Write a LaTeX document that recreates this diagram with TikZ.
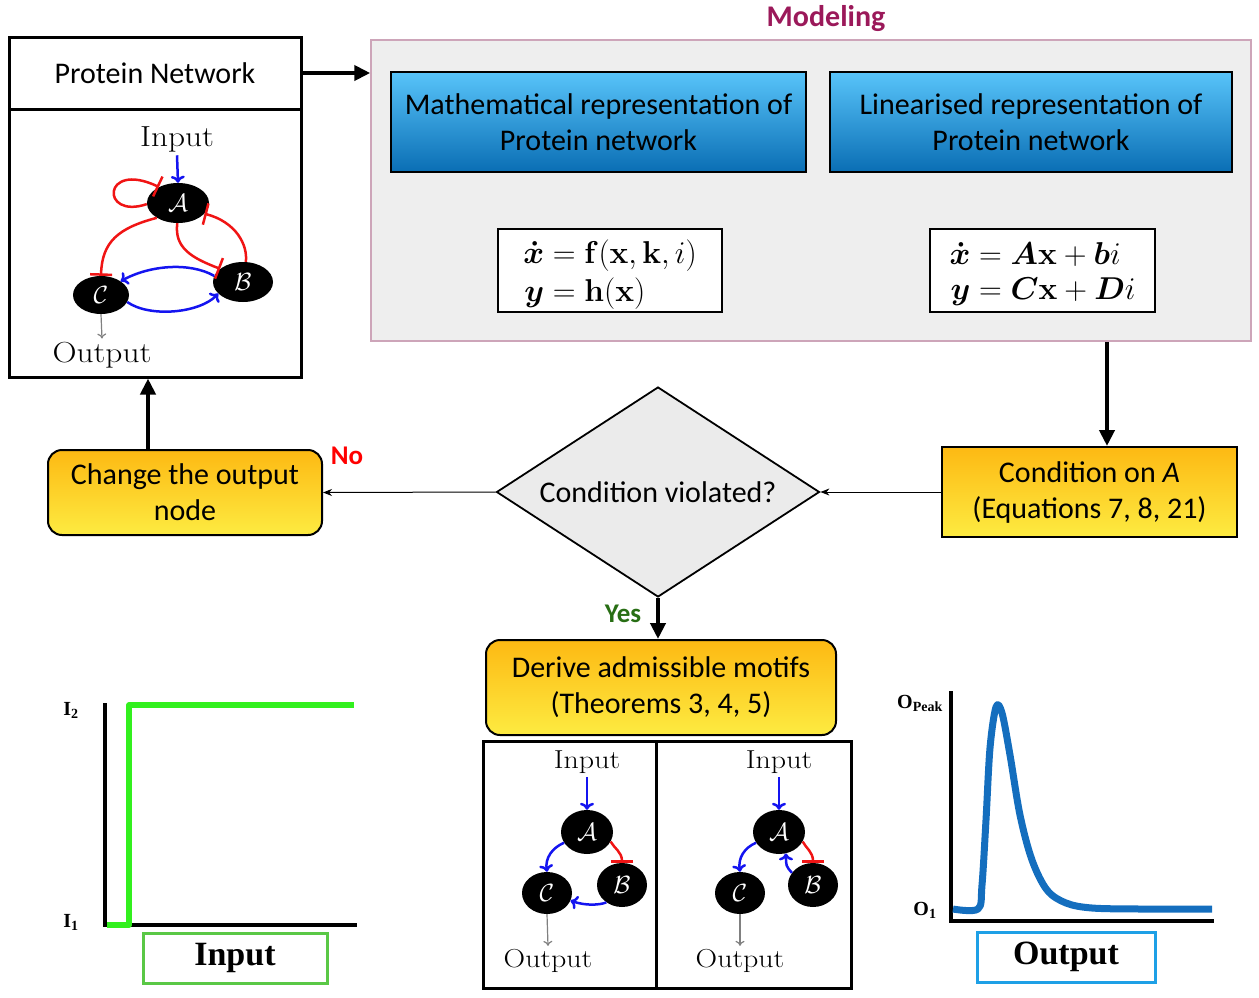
\documentclass[tikz,border=0pt]{standalone}
\usepackage{amsmath,bm}
\usepackage[no-math]{fontspec}
\setmainfont{Carlito}
\newfontfamily\cmrf[FakeStretch=1.15]{Latin Modern Roman}
\newfontfamily\timesf{Liberation Serif}
\usetikzlibrary{arrows.meta,shapes.geometric,calc}
\definecolor{modc}{RGB}{155,25,90}
\definecolor{panelfill}{RGB}{238,238,238}
\definecolor{paneldraw}{RGB}{205,165,185}
\definecolor{bluetop}{RGB}{88,196,250}
\definecolor{bluebot}{RGB}{10,110,180}
\definecolor{ytop}{RGB}{253,185,19}
\definecolor{ybot}{RGB}{253,235,65}
\definecolor{yesc}{RGB}{40,110,20}
\definecolor{stepg}{RGB}{50,240,30}
\definecolor{inboxc}{RGB}{90,200,70}
\definecolor{curveb}{RGB}{20,110,190}
\definecolor{outboxc}{RGB}{30,160,230}
\definecolor{netblue}{RGB}{20,20,240}
\definecolor{netred}{RGB}{240,20,20}
\definecolor{diafill}{RGB}{235,235,235}
\begin{document}
\begin{tikzpicture}[x=1pt,y=-1pt,
  txt/.style={font=\fontsize{30}{36}\selectfont, align=center},
  bluebox/.style={txt, draw=black, line width=2pt, top color=bluetop, bottom color=bluebot, inner sep=0pt},
  ybox/.style={txt, draw=black, line width=2pt, top color=ytop, bottom color=ybot, inner sep=0pt},
  eqbox/.style={draw=black, line width=2pt, fill=white, inner sep=0pt, font=\fontsize{24.88}{26}\selectfont},
  framebox/.style={draw=black, line width=3pt, inner sep=0pt},
  thickarr/.style={line width=4.5pt, -{Triangle[length=16pt,width=15pt]}},
  thinarr/.style={line width=1pt, -{Stealth[length=9pt,width=7pt]}},
  netnode/.style={ellipse, fill=black, text=white, inner sep=0pt, font=\fontsize{24.88}{30}\selectfont},
  netlbl/.style={font=\cmrf\fontsize{29}{32}\selectfont},
  netlbls/.style={font=\cmrf\fontsize{26}{30}\selectfont},
  act/.style={draw=netblue, line width=2.5pt, -{Computer Modern Rightarrow[length=7pt,width=14pt,line width=2.5pt]}},
  inh/.style={draw=netred, line width=2.5pt, -{Bar[width=22pt,line width=2.5pt]}},
  outarr/.style={draw=gray, line width=1.2pt, -{Computer Modern Rightarrow[length=5pt,width=9pt]}},
  lblb/.style={font=\timesf\bfseries\fontsize{20}{22}\selectfont}
]
\useasboundingbox (0,0) rectangle (1259,997);

% ---------- Protein network box ----------
\node[framebox, minimum width=292pt, minimum height=72pt, txt] (ptitle) at (155,73) {Protein Network};
\node[framebox, minimum width=292pt, minimum height=268pt] (pbox) at (155,243) {};

% network
\node[netlbl] (in1) at (177,139) {Input};
\node[netnode, minimum width=62pt, minimum height=40pt] (A1) at (178,203) {$\mathcal{A}$};
\node[netnode, minimum width=60pt, minimum height=40pt] (B1) at (243,282) {$\mathcal{B}$};
\node[netnode, minimum width=56pt, minimum height=38pt] (C1) at (101,295) {$\mathcal{C}$};
\node[netlbl] (out1) at (102,355) {Output};
\draw[act] (in1.south) -- (A1.north);
\draw[inh] (A1.182) .. controls (100,220) and (102,160) .. (A1.140);
\draw[inh] (A1.215) .. controls (118,228) and (102,242) .. (C1.north);
\draw[inh] (A1.268) .. controls (174,248) and (192,258) .. (B1.150);
\draw[inh] (B1.82) .. controls (248,245) and (236,222) .. (A1.-22);
\draw[act] (B1.168) .. controls (190,262) and (150,265) .. (C1.35);
\draw[act] (C1.-15) .. controls (150,318) and (200,313) .. (B1.205);
\draw[outarr] (C1.south) -- (out1.north);

% ---------- Modeling panel ----------
\node[draw=paneldraw, fill=panelfill, line width=1.5pt, minimum width=880pt, minimum height=301pt, inner sep=0pt] (model) at (811,190.5) {};
\node[font=\bfseries\fontsize{30}{34}\selectfont, text=modc] (mtitle) at (826,19) {Modeling};
\node[bluebox, minimum width=415pt, minimum height=100pt] (math) at (598.5,122) {Mathematical representation of\\Protein network};
\node[bluebox, minimum width=402pt, minimum height=100pt] (lin) at (1031,122) {Linearised representation of\\Protein network};
\node[eqbox, minimum width=224pt, minimum height=83pt] (eq1) at (610,270.5)
 {\raisebox{-5pt}[\height][\depth]{\scalebox{1.27}{$\begin{aligned}\bm{\dot{x}} &= \mathbf{f}(\mathbf{x},\mathbf{k},i)\\[-1pt] \bm{y} &= \mathbf{h}(\mathbf{x})\end{aligned}$}}};
\node[eqbox, minimum width=225pt, minimum height=83pt] (eq2) at (1042.5,270.5)
 {\raisebox{-5pt}[\height][\depth]{\scalebox{1.27}{$\begin{aligned}\bm{\dot{x}} &= \bm{A}\mathbf{x} + \bm{b}i\\[-1pt] \bm{y} &= \bm{C}\mathbf{x} + \bm{D}i\end{aligned}$}}};

\draw[thickarr] (ptitle.east) -- (ptitle.east -| model.west);

% ---------- Decision flow ----------
\node[ybox, minimum width=295pt, minimum height=90pt] (cond) at (1089.5,492) {Condition on \textit{A}\\(Equations 7, 8, 21)};
\draw[thickarr] ([xshift=17.5pt]cond.north |- model.south) -- ([xshift=17.5pt]cond.north);

\node[diamond, draw=black, line width=1.8pt, fill=diafill, minimum width=323pt, minimum height=210pt, aspect=1.54, inner sep=0pt, txt] (dia) at (658,492) {Condition violated?};
\draw[thinarr] (cond.west) -- (dia.east);

\node[ybox, rounded corners=14pt, minimum width=274pt, minimum height=85pt] (change) at (185,492.5) {Change the output\\node};
\draw[thinarr] (dia.west) -- (change.east);
\node[font=\bfseries\fontsize{27}{30}\selectfont, text=red] (no) at (347,456) {No};
\draw[thickarr] ([xshift=-37pt]change.north) -- ([xshift=-37pt]change.north |- pbox.south);

\node[ybox, rounded corners=14pt, minimum width=350pt, minimum height=95pt] (derive) at (661,687.5) {Derive admissible motifs\\(Theorems 3, 4, 5)};
\draw[thickarr] (dia.south) -- (dia.south |- derive.north);
\node[font=\bfseries\fontsize{27}{30}\selectfont, text=yesc] (yes) at (623,614) {Yes};

% ---------- Motif boxes ----------
\node[framebox, minimum width=173pt, minimum height=247pt] (m1) at (569.5,864.5) {};
\node[framebox, minimum width=195pt, minimum height=247pt] (m2) at (753.5,864.5) {};

% motif 1
\node[netlbls] (in2) at (587,762) {Input};
\node[netnode, minimum width=52pt, minimum height=44pt] (A2) at (587,832) {$\mathcal{A}$};
\node[netnode, minimum width=50pt, minimum height=44pt] (B2) at (622,885) {$\mathcal{B}$};
\node[netnode, minimum width=50pt, minimum height=42pt] (C2) at (547,893) {$\mathcal{C}$};
\node[netlbls] (out2) at (548,961) {Output};
\draw[act] (in2.south) -- (A2.north);
\draw[act] (A2.205) .. controls (552,848) and (545,858) .. (C2.north);
\draw[inh] (A2.-22) .. controls (614,848) and (622,852) .. (B2.north);
\draw[act] (B2.228) .. controls (600,905) and (586,906) .. (C2.-18);
\draw[outarr] (C2.south) -- (out2.north);

% motif 2
\node[netlbls] (in3) at (779,762) {Input};
\node[netnode, minimum width=52pt, minimum height=44pt] (A3) at (779,832) {$\mathcal{A}$};
\node[netnode, minimum width=50pt, minimum height=44pt] (B3) at (813,885) {$\mathcal{B}$};
\node[netnode, minimum width=50pt, minimum height=42pt] (C3) at (740,893) {$\mathcal{C}$};
\node[netlbls] (out3) at (740,961) {Output};
\draw[act] (in3.south) -- (A3.north);
\draw[act] (A3.205) .. controls (744,848) and (738,858) .. (C3.north);
\draw[inh] (A3.-22) .. controls (806,848) and (813,852) .. (B3.north);
\draw[act] (B3.150) .. controls (786,866) .. (A3.-72);
\draw[outarr] (C3.south) -- (out3.north);

% ---------- Input plot ----------
\draw[line width=4pt] (105,703) -- (105,925) -- (357,925);
\draw[stepg, line width=5.5pt, line join=round] (107,925) -- (129,925) -- (129,705) -- (354,705);
\node[lblb] (i2) at (71,710) {I\textsubscript{2}};
\node[lblb] (i1) at (71,922) {I\textsubscript{1}};
\node[draw=inboxc, line width=3pt, minimum width=184pt, minimum height=50pt, inner sep=0pt, font=\timesf\bfseries\fontsize{34}{38}\selectfont] (inb) at (235,958) {Input};

% ---------- Output plot ----------
\draw[line width=4pt] (951,691) -- (951,921) -- (1214,921);
\draw[curveb, line width=7pt, line join=round] plot[smooth, tension=0.55] coordinates {(953,909) (978,909) (982,885) (986,820) (990,748) (996,707) (1002,713) (1010,755) (1020,815) (1032,860) (1047,890) (1066,903) (1092,908) (1140,909) (1212,909)};
\node[lblb] (opk) at (920,703) {O\textsubscript{Peak}};
\node[lblb] (o1) at (925,910) {O\textsubscript{1}};
\node[draw=outboxc, line width=3pt, minimum width=178pt, minimum height=50pt, inner sep=0pt, font=\timesf\bfseries\fontsize{34}{38}\selectfont] (outb) at (1066,957) {Output};
\end{tikzpicture}
\end{document}
